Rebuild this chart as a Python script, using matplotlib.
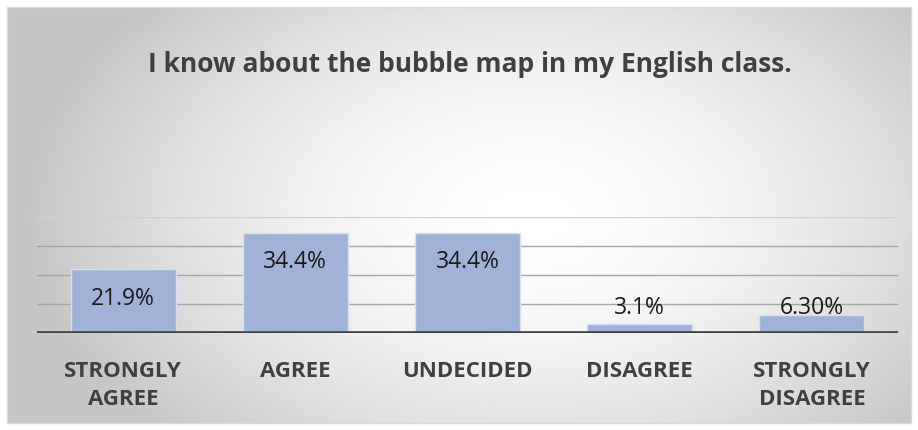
import matplotlib.pyplot as plt
import numpy as np
from matplotlib.patches import Rectangle

categories = ['STRONGLY\nAGREE', 'AGREE', 'UNDECIDED', 'DISAGREE', 'STRONGLY\nDISAGREE']
values = [21.9, 34.4, 34.4, 3.1, 6.3]
value_labels = ['21.9%', '34.4%', '34.4%', '3.1%', '6.30%']
title = 'I know about the bubble map in my English class.'

plt.rcParams['font.family'] = ['Open Sans', 'DejaVu Sans']

W, H = 918, 430
fig = plt.figure(figsize=(W / 100, H / 100), dpi=100)
fig.patch.set_facecolor('white')

# chart-area background: radial grey-to-white gradient inside a thin frame
bg = fig.add_axes([0, 0, 1, 1], zorder=-5)
bg.set_xlim(0, W)
bg.set_ylim(H, 0)
bg.axis('off')
x0, y0, x1, y1 = 7, 7, 911, 423
xx, yy = np.meshgrid(np.linspace(x0, x1, 400), np.linspace(y0, y1, 200))
d = np.sqrt(((xx - 530) / 470) ** 2 + ((yy - 215) / 300) ** 2)
shade = np.clip(1 - 0.2 * d ** 1.7, 0.775, 1.0)
bg.imshow(shade, cmap='gray', vmin=0, vmax=1, extent=(x0, x1, y1, y0),
          aspect='auto', interpolation='bilinear')
bg.add_patch(Rectangle((x0, y0), x1 - x0, y1 - y0, fill=False,
                       edgecolor='#d9d9d9', linewidth=1))

fig.text(470 / W, 1 - 64 / H, title, ha='center', va='center',
         fontsize=19, fontweight='bold', color='#404040')

ax = fig.add_axes([37 / W, 1 - 333 / H, 861 / W, 116 / H])
ax.patch.set_alpha(0)
x = np.arange(len(categories))
ax.bar(x, values, width=0.61, color='#a0b3d6', edgecolor='#d6def0',
       linewidth=1, zorder=3)
ax.set_xlim(-0.5, len(categories) - 0.5)
ax.set_ylim(0, 40)
for y in [10, 20, 30]:
    ax.axhline(y, color='#a6a6a6', linewidth=1, zorder=1)
ax.axhline(40, color='#d0d0d0', linewidth=1, zorder=1)
ax.axhline(0, color='#404040', linewidth=2.6, zorder=4)
for s in ax.spines.values():
    s.set_visible(False)
ax.set_yticks([])
ax.set_xticks(x)
ax.set_xticklabels(categories, fontsize=16, fontweight='bold',
                   color='#404040', linespacing=1.45)
ax.tick_params(axis='x', length=0, pad=20)

for xi, v, lab in zip(x, values, value_labels):
    if v > 15:
        ax.annotate(lab, (xi, v), xytext=(0, -21), textcoords='offset points',
                    ha='center', va='center', fontsize=16.5, color='#1a1a1a',
                    zorder=5)
    else:
        ax.annotate(lab, (xi, 0), xytext=(0, 18), textcoords='offset points',
                    ha='center', va='center', fontsize=16.5, color='#1a1a1a',
                    zorder=5)

fig.savefig('out.png', dpi=100)
